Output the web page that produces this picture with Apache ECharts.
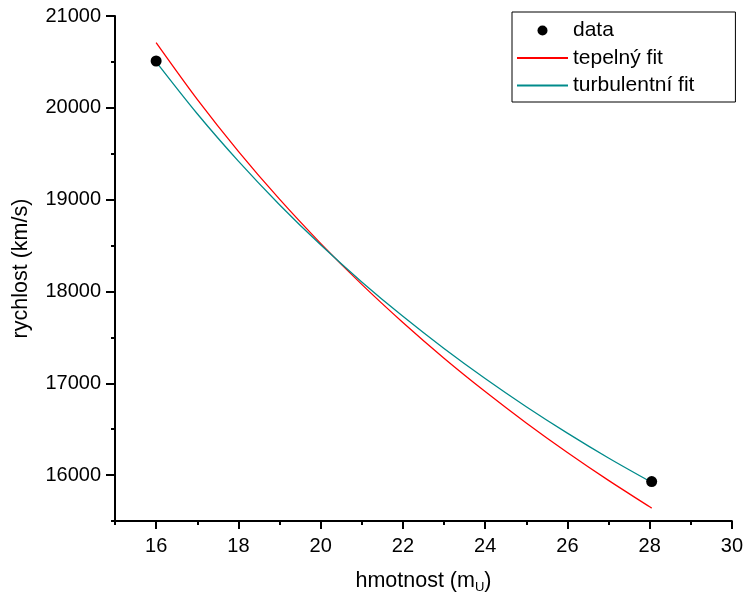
<!DOCTYPE html>
<html>
<head>
<meta charset="utf-8">
<script src="https://cdn.jsdelivr.net/npm/echarts@6/dist/echarts.min.js"></script>
<style>html,body{margin:0;padding:0;background:#fff;}#c{width:746px;height:599px;}</style>
</head>
<body>
<div id="c"></div>
<script>
// measured data points (mass in m_U, speed in km/s)
var dataMass = [16, 28.05];
var dataSpeed = [20510, 15930];
// fit curves
var fitMass = [16, 17, 18, 19, 20, 21, 22, 23, 24, 25, 26, 27, 28, 28.05];
var thermalFit = [20710, 20092, 19526, 19005, 18524, 18077, 17662, 17273, 16910, 16568, 16246, 15942, 15655, 15640];
var turbulentFit = [20500, 19935, 19419, 18945, 18508, 18104, 17729, 17379, 17052, 16745, 16457, 16186, 15933, 15925];
// axis ticks
var xMajorTicks = [16, 18, 20, 22, 24, 26, 28, 30];
var xMinorTicks = [15, 17, 19, 21, 23, 25, 27, 29];
var yMajorTicks = [16000, 17000, 18000, 19000, 20000, 21000];
var yMinorTicks = [15500, 16500, 17500, 18500, 19500, 20500];

function pairs(xs, ys) { return xs.map(function (x, i) { return [x, ys[i]]; }); }

var FONT = '"Liberation Sans", Arial, sans-serif';
var chart = echarts.init(document.getElementById('c'), null, { renderer: 'canvas' });
var baseX = { type: 'value', min: 15, max: 30, splitLine: { show: false } };
var baseY = { type: 'value', min: 15500, max: 21000, splitLine: { show: false } };
function plain(v) { return String(v); }

chart.setOption({
  animation: false,
  backgroundColor: '#fff',
  grid: { left: 115, right: 9, top: 16, bottom: 78 },
  xAxis: [
    Object.assign({}, baseX, {
      name: '{a|hmotnost (m}{s|U}{a|)}',
      nameLocation: 'middle',
      nameGap: 47,
      nameTextStyle: {
        rich: {
          a: { fontFamily: FONT, fontSize: 21.5, color: '#000' },
          s: { fontFamily: FONT, fontSize: 13, color: '#000', padding: [13, 0, 0, 0] }
        }
      },
      axisLine: { show: true, onZero: false, lineStyle: { color: '#000', width: 2 } },
      axisTick: { show: true, customValues: xMajorTicks, length: 8, lineStyle: { color: '#000', width: 2 } },
      axisLabel: { show: true, customValues: xMajorTicks, formatter: plain, margin: 15, fontFamily: FONT, fontSize: 20, color: '#000' }
    }),
    Object.assign({}, baseX, {
      position: 'bottom',
      axisLine: { show: false },
      axisTick: { show: true, customValues: xMinorTicks, length: 4, lineStyle: { color: '#000', width: 2 } },
      axisLabel: { show: false }
    })
  ],
  yAxis: [
    Object.assign({}, baseY, {
      name: 'rychlost (km/s)',
      nameLocation: 'middle',
      nameGap: 83,
      nameTextStyle: { fontFamily: FONT, fontSize: 21.5, color: '#000' },
      axisLine: { show: true, onZero: false, lineStyle: { color: '#000', width: 2 } },
      axisTick: { show: true, customValues: yMajorTicks, length: 9, lineStyle: { color: '#000', width: 2 } },
      axisLabel: { show: true, customValues: yMajorTicks, formatter: plain, margin: 14, fontFamily: FONT, fontSize: 20, color: '#000' }
    }),
    Object.assign({}, baseY, {
      position: 'left',
      axisLine: { show: false },
      axisTick: { show: true, customValues: yMinorTicks, length: 4, lineStyle: { color: '#000', width: 2 } },
      axisLabel: { show: false }
    })
  ],
  legend: {
    orient: 'vertical',
    left: 512,
    top: 12,
    itemWidth: 51,
    itemHeight: 10,
    itemGap: 6.5,
    padding: [8, 41, 6, 4],
    borderColor: '#000',
    borderWidth: 1,
    textStyle: { fontFamily: FONT, fontSize: 21, color: '#000' },
    data: [
      { name: 'data', icon: 'circle', itemStyle: { color: '#000', opacity: 1 } },
      { name: 'tepelný fit', itemStyle: { opacity: 0 } },
      { name: 'turbulentní fit', itemStyle: { opacity: 0 } }
    ]
  },
  series: [
    {
      name: 'tepelný fit', type: 'line', data: pairs(fitMass, thermalFit),
      smooth: 0.3, symbol: 'none', lineStyle: { color: '#ff0000', width: 1.3 }, itemStyle: { color: '#ff0000' }, z: 2
    },
    {
      name: 'turbulentní fit', type: 'line', data: pairs(fitMass, turbulentFit),
      smooth: 0.3, symbol: 'none', lineStyle: { color: '#008b8b', width: 1.3 }, itemStyle: { color: '#008b8b' }, z: 3
    },
    {
      name: 'data', type: 'scatter', data: pairs(dataMass, dataSpeed),
      symbol: 'circle', symbolSize: 11, itemStyle: { color: '#000', opacity: 1 }, z: 4
    }
  ]
});
</script>
</body>
</html>
